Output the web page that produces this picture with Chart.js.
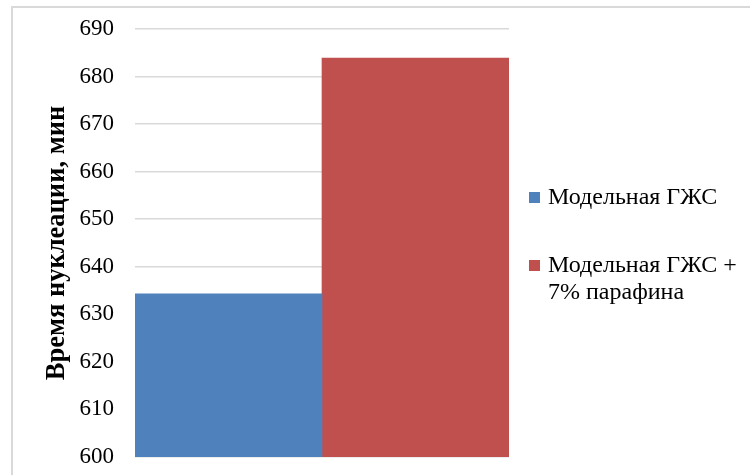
<!DOCTYPE html>
<html lang="ru">
<head>
<meta charset="utf-8">
<script src="https://cdn.jsdelivr.net/npm/chart.js@4/dist/chart.umd.min.js"></script>
<style>
  html, body { margin: 0; padding: 0; background: #fff; overflow: hidden; }
  #wrap { position: relative; width: 750px; height: 475px; }
  #nucleationChart { display: block; }
  #frame {
    position: absolute; left: 11px; top: 6px; width: 800px; height: 520px;
    border-left: 2px solid #d9d9d9; border-top: 2px solid #d9d9d9;
    box-sizing: border-box; pointer-events: none;
  }
  #legend {
    position: absolute; left: 529px; top: 183px;
    font-family: "Liberation Serif", "Times New Roman", serif;
    font-size: 24px; line-height: 27px; color: #000;
  }
  .item { position: relative; padding-left: 19px; }
  .item + .item { margin-top: 41px; }
  .swatch { position: absolute; left: 0; top: 9px; width: 11px; height: 11px; }
</style>
</head>
<body>
<div id="wrap">
  <canvas id="nucleationChart" width="750" height="475"></canvas>
  <div id="frame"></div>
  <div id="legend"></div>
</div>
<script>
  const categories = [""];
  const seriesNames = [["Модельная ГЖС"], ["Модельная ГЖС +", "7% парафина"]];
  const seriesValues = [634.3, 683.9];
  const seriesColors = ["#4f81bd", "#c0504d"];
  const yTicks = [600, 610, 620, 630, 640, 650, 660, 670, 680, 690];

  const serif = "'Liberation Serif', 'Times New Roman', serif";

  new Chart(document.getElementById("nucleationChart"), {
    type: "bar",
    data: {
      labels: categories,
      datasets: seriesValues.map((value, i) => ({
        label: seriesNames[i].join(" "),
        data: [value],
        backgroundColor: seriesColors[i],
        borderWidth: 0,
        categoryPercentage: 1,
        barPercentage: 1
      }))
    },
    options: {
      responsive: false,
      animation: false,
      layout: {
        padding: { left: 37, right: 241, top: 29, bottom: 18 }
      },
      plugins: {
        legend: { display: false },
        tooltip: { enabled: false }
      },
      scales: {
        x: { display: false },
        y: {
          min: yTicks[0],
          max: yTicks[yTicks.length - 1],
          afterFit(scale) {
            // fixed axis width; tick padding should not eat into the plot height
            scale.width = 98;
            scale.paddingTop = 0;
            scale.paddingBottom = 0;
          },
          afterBuildTicks(scale) {
            scale.ticks = yTicks.map((value) => ({ value }));
          },
          border: { display: false },
          grid: { color: "#d9d9d9", lineWidth: 1.5, drawTicks: false },
          ticks: {
            padding: 21,
            color: "#000",
            font: { family: serif, size: 23 }
          },
          title: {
            display: true,
            text: "Время нуклеации, мин",
            color: "#000",
            font: { family: serif, size: 26.5, weight: "bold" },
            padding: { top: 4, bottom: 4 }
          }
        }
      }
    }
  });

  // legend on the right, second entry wraps onto two lines
  const legend = document.getElementById("legend");
  seriesNames.forEach((lines, i) => {
    const item = document.createElement("div");
    item.className = "item";
    const swatch = document.createElement("span");
    swatch.className = "swatch";
    swatch.style.background = seriesColors[i];
    item.appendChild(swatch);
    lines.forEach((line) => {
      const row = document.createElement("div");
      row.textContent = line;
      item.appendChild(row);
    });
    legend.appendChild(item);
  });
</script>
</body>
</html>
